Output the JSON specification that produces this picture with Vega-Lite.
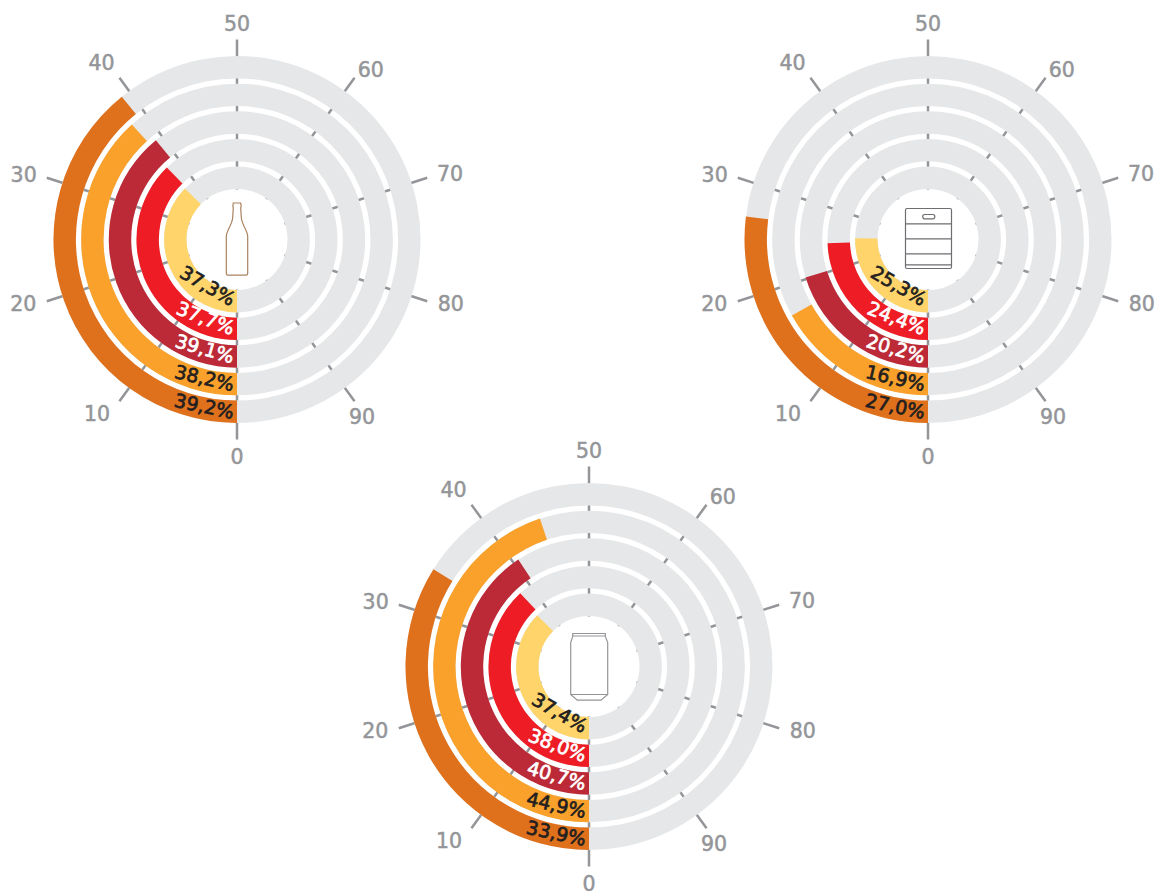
{
  "$schema": "https://vega.github.io/schema/vega-lite/v6.json",
  "padding": {"left": 7, "top": 14.5, "right": 0, "bottom": 0},
  "background": "white",
  "config": {"view": {"stroke": null}},
  "datasets": {
    "ticks": [{"v": 0}, {"v": 10}, {"v": 20}, {"v": 30}, {"v": 40}, {"v": 50}, {"v": 60}, {"v": 70}, {"v": 80}, {"v": 90}],
    "tickLabels": [
      {"label": "0", "at": 0},
      {"label": "10", "at": 10.8},
      {"label": "20", "at": 20.4},
      {"label": "30", "at": 29.7},
      {"label": "40", "at": 39.6},
      {"label": "50", "at": 50},
      {"label": "60", "at": 60.6},
      {"label": "70", "at": 70.2},
      {"label": "80", "at": 79.6},
      {"label": "90", "at": 90.2}
    ],
    "rings": [{"ring": "r1", "from": 0, "to": 100}, {"ring": "r2", "from": 0, "to": 100}, {"ring": "r3", "from": 0, "to": 100}, {"ring": "r4", "from": 0, "to": 100}, {"ring": "r5", "from": 0, "to": 100}],
    "readings": [
      {"pack": "bottle", "ring": "r1", "from": 0, "share": 37.3, "label": "37,3%"},
      {"pack": "bottle", "ring": "r2", "from": 0, "share": 37.7, "label": "37,7%"},
      {"pack": "bottle", "ring": "r3", "from": 0, "share": 39.1, "label": "39,1%"},
      {"pack": "bottle", "ring": "r4", "from": 0, "share": 38.2, "label": "38,2%"},
      {"pack": "bottle", "ring": "r5", "from": 0, "share": 39.2, "label": "39,2%"},
      {"pack": "keg", "ring": "r1", "from": 0, "share": 25.3, "label": "25,3%"},
      {"pack": "keg", "ring": "r2", "from": 0, "share": 24.4, "label": "24,4%"},
      {"pack": "keg", "ring": "r3", "from": 0, "share": 20.2, "label": "20,2%"},
      {"pack": "keg", "ring": "r4", "from": 0, "share": 16.9, "label": "16,9%"},
      {"pack": "keg", "ring": "r5", "from": 0, "share": 27.0, "label": "27,0%"},
      {"pack": "can", "ring": "r1", "from": 0, "share": 37.4, "label": "37,4%"},
      {"pack": "can", "ring": "r2", "from": 0, "share": 38.0, "label": "38,0%"},
      {"pack": "can", "ring": "r3", "from": 0, "share": 40.7, "label": "40,7%"},
      {"pack": "can", "ring": "r4", "from": 0, "share": 44.9, "label": "44,9%"},
      {"pack": "can", "ring": "r5", "from": 0, "share": 33.9, "label": "33,9%"}
    ]
  },
  "columns": 3,
  "align": "each",
  "bounds": "flush",
  "spacing": {"row": 27, "column": 0},
  "concat": [
    {
      "width": 460, "height": 400,
      "layer": [
        {"data": {"name": "ticks"}, "mark": {"type": "arc", "radius": 200, "radius2": 50, "stroke": "#939598", "strokeWidth": 2.5}, "encoding": {"theta": {"field": "v", "type": "quantitative", "stack": null, "scale": {"domain": [0, 100], "range": [3.14159265, 9.42477796]}}, "theta2": {"field": "v"}}},
        {"data": {"name": "rings"}, "mark": {"type": "arc", "fill": "#E6E7E8"}, "encoding": {"theta": {"field": "from", "type": "quantitative", "stack": null, "scale": {"domain": [0, 100], "range": [3.14159265, 9.42477796]}}, "theta2": {"field": "to"}, "radius": {"field": "ring", "type": "nominal", "scale": {"type": "band", "domain": ["r1", "r2", "r3", "r4", "r5"], "range": [50.5, 183.5], "paddingInner": 0.19, "paddingOuter": 0}}}},
        {"data": {"name": "readings"}, "transform": [{"filter": "datum.pack === 'bottle'"}], "mark": {"type": "arc"}, "encoding": {"theta": {"field": "from", "type": "quantitative", "stack": null, "scale": {"domain": [0, 100], "range": [3.14159265, 9.42477796]}}, "theta2": {"field": "share"}, "radius": {"field": "ring", "type": "nominal", "scale": {"type": "band", "domain": ["r1", "r2", "r3", "r4", "r5"], "range": [50.5, 183.5], "paddingInner": 0.19, "paddingOuter": 0}}, "color": {"field": "ring", "type": "nominal", "legend": null, "scale": {"domain": ["r1", "r2", "r3", "r4", "r5"], "range": ["#FFD56B", "#EE1C25", "#BC2A38", "#F9A12A", "#E0711C"]}}}},
        {"data": {"name": "readings"}, "transform": [{"filter": "datum.pack === 'bottle'"}], "mark": {"type": "text", "align": "right", "baseline": "middle", "dx": -3, "dy": 2, "font": "DejaVu Sans", "fontSize": 19, "strokeWidth": 0.7}, "encoding": {"theta": {"field": "from", "type": "quantitative", "stack": null, "scale": {"domain": [0, 100], "range": [3.14159265, 9.42477796]}}, "radius": {"field": "ring", "type": "nominal", "scale": {"type": "band", "domain": ["r1", "r2", "r3", "r4", "r5"], "range": [50.5, 183.5], "paddingInner": 0.19, "paddingOuter": 0}}, "text": {"field": "label"}, "angle": {"field": "ring", "type": "nominal", "legend": null, "scale": {"type": "ordinal", "domain": ["r1", "r2", "r3", "r4", "r5"], "range": [30, 21, 16, 13, 12]}}, "fill": {"field": "ring", "type": "nominal", "legend": null, "scale": {"domain": ["r1", "r2", "r3", "r4", "r5"], "range": ["#231F20", "#FFFFFF", "#FFFFFF", "#231F20", "#231F20"]}}, "stroke": {"field": "ring", "type": "nominal", "legend": null, "scale": {"domain": ["r1", "r2", "r3", "r4", "r5"], "range": ["#231F20", "#FFFFFF", "#FFFFFF", "#231F20", "#231F20"]}}}},
        {"data": {"name": "tickLabels"}, "transform": [{"filter": {"field": "label", "oneOf": ["10", "20", "30", "40", "70", "80"]}}], "mark": {"type": "text", "radius": 223, "dy": 1.5, "align": "center", "baseline": "middle", "font": "DejaVu Sans", "fontSize": 20.5, "fill": "#939598", "stroke": "#939598", "strokeWidth": 0.5}, "encoding": {"theta": {"field": "at", "type": "quantitative", "stack": null, "scale": {"domain": [0, 100], "range": [3.14159265, 9.42477796]}}, "text": {"field": "label"}}},
        {"data": {"name": "tickLabels"}, "transform": [{"filter": {"field": "label", "oneOf": ["0", "50", "60", "90"]}}], "mark": {"type": "text", "radius": 216.5, "dy": 1.5, "align": "center", "baseline": "middle", "font": "DejaVu Sans", "fontSize": 20.5, "fill": "#939598", "stroke": "#939598", "strokeWidth": 0.5}, "encoding": {"theta": {"field": "at", "type": "quantitative", "stack": null, "scale": {"domain": [0, 100], "range": [3.14159265, 9.42477796]}}, "text": {"field": "label"}}},
        {"data": {"values": [{"pack": "bottle"}]}, "mark": {"type": "point", "filled": false, "size": 4, "stroke": "#A9825F", "strokeWidth": 1.2, "opacity": 1, "shape": "M-3.7,-36.5 L3.7,-36.5 L4.2,-33 L3.7,-32 L4.3,-22 C5,-14 10.7,-9 10.7,-3 L10.7,34 Q10.7,35.6 9,35.6 L-9,35.6 Q-10.7,35.6 -10.7,34 L-10.7,-3 C-10.7,-9 -5,-14 -4.3,-22 L-3.7,-32 L-4.2,-33 Z"}, "encoding": {}}
      ]
    },
    {"width": 244, "height": 400, "data": {"values": []}, "mark": {"type": "text"}, "encoding": {}},
    {
      "width": 434, "height": 400,
      "layer": [
        {"data": {"name": "ticks"}, "mark": {"type": "arc", "radius": 200, "radius2": 50, "stroke": "#939598", "strokeWidth": 2.5}, "encoding": {"theta": {"field": "v", "type": "quantitative", "stack": null, "scale": {"domain": [0, 100], "range": [3.14159265, 9.42477796]}}, "theta2": {"field": "v"}}},
        {"data": {"name": "rings"}, "mark": {"type": "arc", "fill": "#E6E7E8"}, "encoding": {"theta": {"field": "from", "type": "quantitative", "stack": null, "scale": {"domain": [0, 100], "range": [3.14159265, 9.42477796]}}, "theta2": {"field": "to"}, "radius": {"field": "ring", "type": "nominal", "scale": {"type": "band", "domain": ["r1", "r2", "r3", "r4", "r5"], "range": [50.5, 183.5], "paddingInner": 0.19, "paddingOuter": 0}}}},
        {"data": {"name": "readings"}, "transform": [{"filter": "datum.pack === 'keg'"}], "mark": {"type": "arc"}, "encoding": {"theta": {"field": "from", "type": "quantitative", "stack": null, "scale": {"domain": [0, 100], "range": [3.14159265, 9.42477796]}}, "theta2": {"field": "share"}, "radius": {"field": "ring", "type": "nominal", "scale": {"type": "band", "domain": ["r1", "r2", "r3", "r4", "r5"], "range": [50.5, 183.5], "paddingInner": 0.19, "paddingOuter": 0}}, "color": {"field": "ring", "type": "nominal", "legend": null, "scale": {"domain": ["r1", "r2", "r3", "r4", "r5"], "range": ["#FFD56B", "#EE1C25", "#BC2A38", "#F9A12A", "#E0711C"]}}}},
        {"data": {"name": "readings"}, "transform": [{"filter": "datum.pack === 'keg'"}], "mark": {"type": "text", "align": "right", "baseline": "middle", "dx": -3, "dy": 2, "font": "DejaVu Sans", "fontSize": 19, "strokeWidth": 0.7}, "encoding": {"theta": {"field": "from", "type": "quantitative", "stack": null, "scale": {"domain": [0, 100], "range": [3.14159265, 9.42477796]}}, "radius": {"field": "ring", "type": "nominal", "scale": {"type": "band", "domain": ["r1", "r2", "r3", "r4", "r5"], "range": [50.5, 183.5], "paddingInner": 0.19, "paddingOuter": 0}}, "text": {"field": "label"}, "angle": {"field": "ring", "type": "nominal", "legend": null, "scale": {"type": "ordinal", "domain": ["r1", "r2", "r3", "r4", "r5"], "range": [30, 21, 16, 13, 12]}}, "fill": {"field": "ring", "type": "nominal", "legend": null, "scale": {"domain": ["r1", "r2", "r3", "r4", "r5"], "range": ["#231F20", "#FFFFFF", "#FFFFFF", "#231F20", "#231F20"]}}, "stroke": {"field": "ring", "type": "nominal", "legend": null, "scale": {"domain": ["r1", "r2", "r3", "r4", "r5"], "range": ["#231F20", "#FFFFFF", "#FFFFFF", "#231F20", "#231F20"]}}}},
        {"data": {"name": "tickLabels"}, "transform": [{"filter": {"field": "label", "oneOf": ["10", "20", "30", "40", "70", "80"]}}], "mark": {"type": "text", "radius": 223, "dy": 1.5, "align": "center", "baseline": "middle", "font": "DejaVu Sans", "fontSize": 20.5, "fill": "#939598", "stroke": "#939598", "strokeWidth": 0.5}, "encoding": {"theta": {"field": "at", "type": "quantitative", "stack": null, "scale": {"domain": [0, 100], "range": [3.14159265, 9.42477796]}}, "text": {"field": "label"}}},
        {"data": {"name": "tickLabels"}, "transform": [{"filter": {"field": "label", "oneOf": ["0", "50", "60", "90"]}}], "mark": {"type": "text", "radius": 216.5, "dy": 1.5, "align": "center", "baseline": "middle", "font": "DejaVu Sans", "fontSize": 20.5, "fill": "#939598", "stroke": "#939598", "strokeWidth": 0.5}, "encoding": {"theta": {"field": "at", "type": "quantitative", "stack": null, "scale": {"domain": [0, 100], "range": [3.14159265, 9.42477796]}}, "text": {"field": "label"}}},
        {"data": {"values": [{"pack": "keg"}]}, "mark": {"type": "point", "filled": false, "size": 4, "stroke": "#6D6E71", "strokeWidth": 1.2, "opacity": 1, "shape": "M-21,-31 L22,-31 Q23.5,-31 23.5,-29.5 L23.5,27.5 Q23.5,29 22,29 L-21,29 Q-22.5,29 -22.5,27.5 L-22.5,-29.5 Q-22.5,-31 -21,-31 Z M-22.5,-15.7 L23.5,-15.7 M-22.5,-0.7 L23.5,-0.7 M-22.5,14.3 L23.5,14.3 M-22.5,25.3 L23.5,25.3 M-3.5,-25 L5,-25 Q6.8,-25 6.8,-22.9 Q6.8,-20.7 5,-20.7 L-3.5,-20.7 Q-5.3,-20.7 -5.3,-22.9 Q-5.3,-25 -3.5,-25 Z"}, "encoding": {}}
      ]
    },
    {"width": 460, "height": 400, "data": {"values": []}, "mark": {"type": "text"}, "encoding": {}},
    {
      "width": 244, "height": 400,
      "layer": [
        {"data": {"name": "ticks"}, "mark": {"type": "arc", "radius": 200, "radius2": 50, "stroke": "#939598", "strokeWidth": 2.5}, "encoding": {"theta": {"field": "v", "type": "quantitative", "stack": null, "scale": {"domain": [0, 100], "range": [3.14159265, 9.42477796]}}, "theta2": {"field": "v"}}},
        {"data": {"name": "rings"}, "mark": {"type": "arc", "fill": "#E6E7E8"}, "encoding": {"theta": {"field": "from", "type": "quantitative", "stack": null, "scale": {"domain": [0, 100], "range": [3.14159265, 9.42477796]}}, "theta2": {"field": "to"}, "radius": {"field": "ring", "type": "nominal", "scale": {"type": "band", "domain": ["r1", "r2", "r3", "r4", "r5"], "range": [50.5, 183.5], "paddingInner": 0.19, "paddingOuter": 0}}}},
        {"data": {"name": "readings"}, "transform": [{"filter": "datum.pack === 'can'"}], "mark": {"type": "arc"}, "encoding": {"theta": {"field": "from", "type": "quantitative", "stack": null, "scale": {"domain": [0, 100], "range": [3.14159265, 9.42477796]}}, "theta2": {"field": "share"}, "radius": {"field": "ring", "type": "nominal", "scale": {"type": "band", "domain": ["r1", "r2", "r3", "r4", "r5"], "range": [50.5, 183.5], "paddingInner": 0.19, "paddingOuter": 0}}, "color": {"field": "ring", "type": "nominal", "legend": null, "scale": {"domain": ["r1", "r2", "r3", "r4", "r5"], "range": ["#FFD56B", "#EE1C25", "#BC2A38", "#F9A12A", "#E0711C"]}}}},
        {"data": {"name": "readings"}, "transform": [{"filter": "datum.pack === 'can'"}], "mark": {"type": "text", "align": "right", "baseline": "middle", "dx": -3, "dy": 2, "font": "DejaVu Sans", "fontSize": 19, "strokeWidth": 0.7}, "encoding": {"theta": {"field": "from", "type": "quantitative", "stack": null, "scale": {"domain": [0, 100], "range": [3.14159265, 9.42477796]}}, "radius": {"field": "ring", "type": "nominal", "scale": {"type": "band", "domain": ["r1", "r2", "r3", "r4", "r5"], "range": [50.5, 183.5], "paddingInner": 0.19, "paddingOuter": 0}}, "text": {"field": "label"}, "angle": {"field": "ring", "type": "nominal", "legend": null, "scale": {"type": "ordinal", "domain": ["r1", "r2", "r3", "r4", "r5"], "range": [30, 21, 16, 13, 12]}}, "fill": {"field": "ring", "type": "nominal", "legend": null, "scale": {"domain": ["r1", "r2", "r3", "r4", "r5"], "range": ["#231F20", "#FFFFFF", "#FFFFFF", "#231F20", "#231F20"]}}, "stroke": {"field": "ring", "type": "nominal", "legend": null, "scale": {"domain": ["r1", "r2", "r3", "r4", "r5"], "range": ["#231F20", "#FFFFFF", "#FFFFFF", "#231F20", "#231F20"]}}}},
        {"data": {"name": "tickLabels"}, "transform": [{"filter": {"field": "label", "oneOf": ["10", "20", "30", "40", "70", "80"]}}], "mark": {"type": "text", "radius": 223, "dy": 1.5, "align": "center", "baseline": "middle", "font": "DejaVu Sans", "fontSize": 20.5, "fill": "#939598", "stroke": "#939598", "strokeWidth": 0.5}, "encoding": {"theta": {"field": "at", "type": "quantitative", "stack": null, "scale": {"domain": [0, 100], "range": [3.14159265, 9.42477796]}}, "text": {"field": "label"}}},
        {"data": {"name": "tickLabels"}, "transform": [{"filter": {"field": "label", "oneOf": ["0", "50", "60", "90"]}}], "mark": {"type": "text", "radius": 216.5, "dy": 1.5, "align": "center", "baseline": "middle", "font": "DejaVu Sans", "fontSize": 20.5, "fill": "#939598", "stroke": "#939598", "strokeWidth": 0.5}, "encoding": {"theta": {"field": "at", "type": "quantitative", "stack": null, "scale": {"domain": [0, 100], "range": [3.14159265, 9.42477796]}}, "text": {"field": "label"}}},
        {"data": {"values": [{"pack": "can"}]}, "mark": {"type": "point", "filled": false, "size": 4, "stroke": "#939598", "strokeWidth": 1.2, "opacity": 1, "shape": "M-16.3,-33 L16.3,-33 L16.3,-30 L18.7,-24 L18.7,28 L12,33.7 L-11.7,33.7 L-18.3,28 L-18.3,-24 L-16.3,-30 Z M-16.3,-30.5 L16.3,-30.5 M-18.3,28 L18.7,28"}, "encoding": {}}
      ]
    }
  ]
}
